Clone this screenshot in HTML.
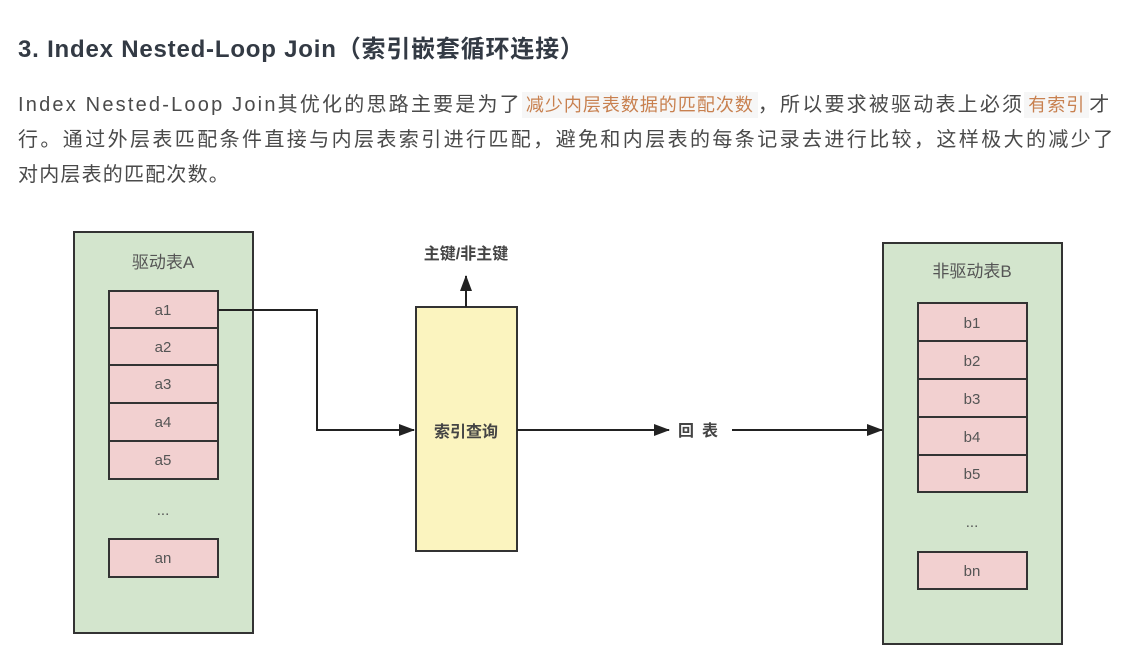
<!DOCTYPE html>
<html><head><meta charset="utf-8"><style>
body{margin:0;width:1130px;height:666px;background:#fff;overflow:hidden;position:relative;font-family:"Liberation Sans","Noto Sans CJK SC",sans-serif;}
.t{position:absolute;left:18px;top:29px;font-size:24px;font-weight:bold;color:#333a44;white-space:nowrap;letter-spacing:0.8px;}
.p{position:absolute;left:18px;font-size:20px;color:#4a4a4a;white-space:nowrap;letter-spacing:2.4px;}
.h{background:#f6f6f6;color:#c8804f;font-size:18px;padding:3px 4px;letter-spacing:1px;}
svg{position:absolute;left:0;top:0;}
</style></head><body>
<div class="t">3. Index Nested-Loop Join（索引嵌套循环连接）</div>
<div class="p" style="top:88px;letter-spacing:2.2px">Index Nested-Loop Join其优化的思路主要是为了<span class="h">减少内层表数据的匹配次数</span>，所以要求被驱动表上必须<span class="h">有索引</span>才</div>
<div class="p" style="top:123px">行。通过外层表匹配条件直接与内层表索引进行匹配，避免和内层表的每条记录去进行比较，这样极大的减少了</div>
<div class="p" style="top:158px;letter-spacing:1.2px">对内层表的匹配次数。</div>
<svg width="1130" height="666" font-family="Liberation Sans, Noto Sans CJK SC, sans-serif">
<defs><marker id="ar2" markerWidth="16" markerHeight="12" refX="15" refY="6" orient="auto" markerUnits="userSpaceOnUse"><path d="M0,0 L16,6 L0,12 z" fill="#222"/></marker></defs>
<g stroke="#333" stroke-width="2">
<rect x="74" y="232" width="179" height="401" fill="#d3e5cd"/>
<rect x="109" y="291" width="109" height="37" fill="#f2d0d0"/>
<rect x="109" y="328" width="109" height="37" fill="#f2d0d0"/>
<rect x="109" y="365" width="109" height="38" fill="#f2d0d0"/>
<rect x="109" y="403" width="109" height="38" fill="#f2d0d0"/>
<rect x="109" y="441" width="109" height="38" fill="#f2d0d0"/>
<rect x="109" y="539" width="109" height="38" fill="#f2d0d0"/>
<rect x="883" y="243" width="179" height="401" fill="#d3e5cd"/>
<rect x="918" y="303" width="109" height="38" fill="#f2d0d0"/>
<rect x="918" y="341" width="109" height="38" fill="#f2d0d0"/>
<rect x="918" y="379" width="109" height="38" fill="#f2d0d0"/>
<rect x="918" y="417" width="109" height="38" fill="#f2d0d0"/>
<rect x="918" y="455" width="109" height="37" fill="#f2d0d0"/>
<rect x="918" y="552" width="109" height="37" fill="#f2d0d0"/>
<rect x="416" y="307" width="101" height="244" fill="#fbf4bf"/>
</g>
<g stroke="#222" stroke-width="2" fill="none">
<path d="M218,310 H317 V430 H414" marker-end="url(#ar2)"/>
<path d="M466,307 V276" marker-end="url(#ar2)"/>
<path d="M517,430 H669" marker-end="url(#ar2)"/>
<path d="M732,430 H882" marker-end="url(#ar2)"/>
</g>
<g fill="#555" font-size="15" text-anchor="middle">
<text x="163" y="268" font-size="17">驱动表A</text>
<text x="163" y="315">a1</text><text x="163" y="352">a2</text><text x="163" y="389">a3</text><text x="163" y="427">a4</text><text x="163" y="465">a5</text>
<text x="163" y="515">...</text><text x="163" y="563">an</text>
<text x="972" y="277" font-size="17">非驱动表B</text>
<text x="972" y="328">b1</text><text x="972" y="366">b2</text><text x="972" y="404">b3</text><text x="972" y="442">b4</text><text x="972" y="479">b5</text>
<text x="972" y="527">...</text><text x="972" y="576">bn</text>
</g>
<g fill="#444" font-size="16" font-weight="bold" text-anchor="middle">
<text x="466" y="437">索引查询</text>
<text x="466" y="259">主键/非主键</text>
<text x="702" y="436" letter-spacing="8">回表</text>
</g>
</svg>
</body></html>
